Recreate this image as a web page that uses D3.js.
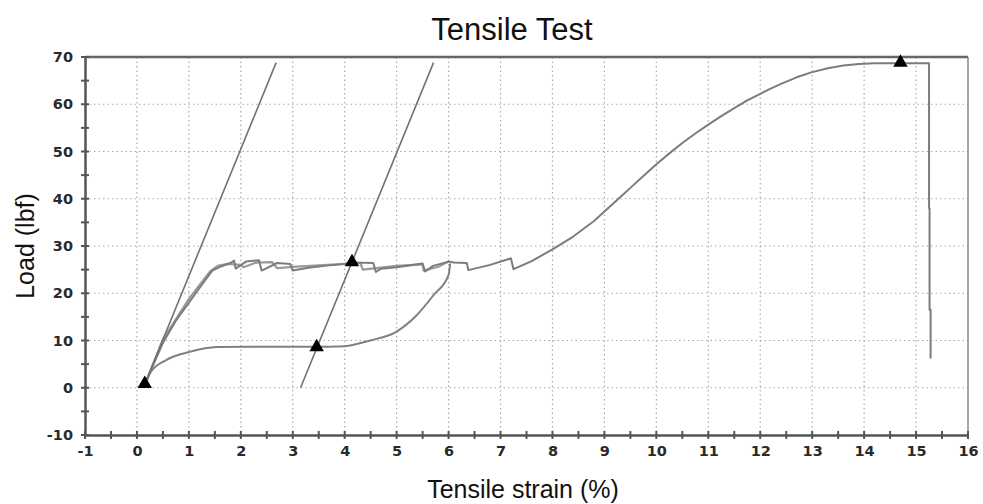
<!DOCTYPE html>
<html>
<head>
<meta charset="utf-8">
<script src="https://cdn.jsdelivr.net/npm/d3@7"></script>
<style>
  body { margin: 0; background: #fff; }
  svg { display: block; }
</style>
</head>
<body>
<svg id="chart" width="983" height="504"></svg>
<script>
// tick values
var xTicks = d3.range(-1, 17, 1);
var yTicks = d3.range(-10, 80, 10);

// main loading curve, to fracture
var mainStrain = [0.15, 0.3, 0.5, 0.75, 1.0, 1.25, 1.45, 1.6, 1.8, 1.87, 1.9, 2.1, 2.35, 2.4, 2.7, 2.95, 3.0, 3.3, 3.7, 4.0, 4.1, 4.55, 4.6, 4.7, 5.0, 5.5, 5.55, 5.7, 6.0, 6.1, 6.35, 6.38, 6.8, 7.2, 7.25, 7.6, 8.0, 8.4, 8.8, 9.0, 9.25, 9.5, 9.75, 10.0, 10.25, 10.5, 10.75, 11.0, 11.25, 11.5, 11.75, 12.0, 12.2, 12.4, 12.7, 13.0, 13.3, 13.6, 13.9, 14.2, 14.7, 15.25, 15.25, 15.26, 15.26, 15.28, 15.28];
var mainLoad   = [0.5, 4.5, 9.5, 14.2, 18.0, 21.8, 24.8, 25.6, 26.4, 26.9, 25.2, 26.7, 27.0, 24.8, 26.4, 26.2, 24.8, 25.4, 25.9, 26.2, 26.5, 26.4, 24.5, 25.2, 25.5, 26.3, 24.6, 25.8, 26.7, 26.5, 26.4, 24.9, 26.0, 27.4, 25.1, 26.8, 29.3, 32.0, 35.3, 37.3, 39.8, 42.3, 44.8, 47.3, 49.6, 51.8, 53.8, 55.7, 57.5, 59.2, 60.8, 62.2, 63.3, 64.3, 65.7, 66.8, 67.6, 68.2, 68.5, 68.7, 68.7, 68.7, 38.0, 38.0, 16.5, 16.5, 6.2];

// second loading curve, overlapping the first up to 6 %
var reloadStrain = [0.15, 0.5, 1.0, 1.4, 1.55, 1.75, 2.0, 2.05, 2.3, 2.6, 2.7, 3.0, 3.5, 4.1, 4.3, 4.35, 5.0, 5.5, 5.52, 5.8, 6.0];
var reloadLoad   = [0.5, 10.2, 18.8, 24.5, 25.8, 26.2, 26.0, 25.5, 26.5, 26.6, 25.3, 25.6, 25.9, 26.3, 26.4, 25.0, 25.8, 26.1, 24.8, 25.6, 26.7];

// lower curve
var lowStrain = [0.15, 0.25, 0.57, 1.02, 1.54, 2.18, 3.0, 3.72, 4.0, 4.49, 5.0, 5.39, 5.71, 6.0, 6.03];
var lowLoad   = [0.5, 3.1, 5.9, 7.6, 8.6, 8.7, 8.7, 8.7, 8.8, 10.0, 11.9, 15.4, 19.6, 23.9, 26.3];

// modulus line and offset line
var modStrain = [0.12, 2.68];
var modLoad = [0, 68.8];
var offStrain = [3.15, 5.71];
var offLoad = [0, 68.8];

// triangle markers
var markStrain = [0.15, 3.46, 4.14, 14.7];
var markLoad = [0.6, 8.4, 26.4, 68.6];

function pts(xs, ys) { return xs.map(function(d, i) { return [d, ys[i]]; }); }

var width = 983, height = 504,
    margin = {top: 57, right: 15, bottom: 69, left: 85},
    svg = d3.select("#chart"),
    g = svg.append("g").attr("transform", "translate(" + margin.left + "," + margin.top + ")");

var w = width - margin.left - margin.right,
    h = height - margin.top - margin.bottom;

var x = d3.scaleLinear().domain([-1, 16]).range([0, w]);
var y = d3.scaleLinear().domain([-10, 70]).range([h, 0]);

// grid
g.append("g").selectAll("line")
    .data(xTicks.filter(function(d) { return d > -1 && d < 16; }))
    .enter().append("line")
      .attr("x1", function(d) { return x(d); })
      .attr("x2", function(d) { return x(d); })
      .attr("y1", 0).attr("y2", h)
      .attr("stroke", "#aaa").attr("stroke-width", 1.2)
      .attr("stroke-dasharray", "1.5,3");

g.append("g").selectAll("line")
    .data(yTicks.filter(function(d) { return d > -10 && d < 70; }))
    .enter().append("line")
      .attr("x1", 0).attr("x2", w)
      .attr("y1", function(d) { return y(d); })
      .attr("y2", function(d) { return y(d); })
      .attr("stroke", "#aaa").attr("stroke-width", 1.2)
      .attr("stroke-dasharray", "1.5,3");

// frame top and right
g.append("line").attr("x1", 0).attr("x2", w).attr("y1", 0).attr("y2", 0)
    .attr("stroke", "#666").attr("stroke-width", 2.5);
g.append("line").attr("x1", w).attr("x2", w).attr("y1", 0).attr("y2", h)
    .attr("stroke", "#888").attr("stroke-width", 1.5);

// curves
var line = d3.line()
    .x(function(d) { return x(d[0]); })
    .y(function(d) { return y(d[1]); });
var smooth = d3.line()
    .x(function(d) { return x(d[0]); })
    .y(function(d) { return y(d[1]); })
    .curve(d3.curveMonotoneX);

var series = [
  {data: pts(lowStrain, lowLoad), color: "#808080", sw: 2, gen: smooth},
  {data: pts(reloadStrain, reloadLoad), color: "#9a9a9a", sw: 2.2, gen: line},
  {data: pts(mainStrain, mainLoad), color: "#7c7c7c", sw: 2, gen: line},
  {data: pts(modStrain, modLoad), color: "#727272", sw: 1.6, gen: line},
  {data: pts(offStrain, offLoad), color: "#727272", sw: 1.6, gen: line}
];

g.append("g").selectAll("path")
    .data(series)
    .enter().append("path")
      .attr("d", function(d) { return d.gen(d.data); })
      .attr("fill", "none")
      .attr("stroke", function(d) { return d.color; })
      .attr("stroke-width", function(d) { return d.sw; })
      .attr("stroke-linejoin", "round");

// markers
g.append("g").selectAll("path")
    .data(pts(markStrain, markLoad))
    .enter().append("path")
      .attr("transform", function(d) { return "translate(" + x(d[0]) + "," + (y(d[1]) - 1) + ")"; })
      .attr("d", d3.symbol().type(d3.symbolTriangle).size(90))
      .attr("fill", "#000");

// axes
var fmt = function(d) { return String(d); };
var xAxis = g.append("g")
    .attr("transform", "translate(0," + h + ")")
    .call(d3.axisBottom(x).tickValues(xTicks).tickFormat(fmt).tickSize(0).tickPadding(11));
var yAxis = g.append("g")
    .call(d3.axisLeft(y).tickValues(yTicks).tickFormat(fmt).tickSize(0).tickPadding(12));

[xAxis, yAxis].forEach(function(a) {
  a.select(".domain").attr("stroke", "#555").attr("stroke-width", 2.5);
  a.selectAll("text")
    .attr("font-family", "DejaVu Sans, Verdana, sans-serif")
    .attr("font-weight", "bold")
    .attr("font-size", 14.5)
    .attr("fill", "#2a2a2a");
});

// major and minor ticks crossing the axes
var xt = d3.range(-1, 16.01, 0.5), yt = d3.range(-10, 70.01, 5);
g.append("g").selectAll("line")
    .data(xt)
    .enter().append("line")
      .attr("x1", function(d) { return x(d); })
      .attr("x2", function(d) { return x(d); })
      .attr("y1", h - 4).attr("y2", h + 4)
      .attr("stroke", "#555").attr("stroke-width", 2);
g.append("g").selectAll("line")
    .data(yt)
    .enter().append("line")
      .attr("x1", -4).attr("x2", 4)
      .attr("y1", function(d) { return y(d); })
      .attr("y2", function(d) { return y(d); })
      .attr("stroke", "#555").attr("stroke-width", 2);

// titles
svg.append("text")
    .attr("x", 512).attr("y", 40)
    .attr("text-anchor", "middle")
    .attr("font-family", "Liberation Sans, Arial, sans-serif")
    .attr("font-size", 31)
    .attr("fill", "#111")
    .text("Tensile Test");

svg.append("text")
    .attr("x", 523).attr("y", 498)
    .attr("text-anchor", "middle")
    .attr("font-family", "Liberation Sans, Arial, sans-serif")
    .attr("font-size", 25)
    .attr("fill", "#111")
    .text("Tensile strain (%)");

svg.append("text")
    .attr("transform", "translate(34,246) rotate(-90)")
    .attr("text-anchor", "middle")
    .attr("font-family", "Liberation Sans, Arial, sans-serif")
    .attr("font-size", 25)
    .attr("fill", "#111")
    .text("Load (lbf)");
</script>
</body>
</html>
